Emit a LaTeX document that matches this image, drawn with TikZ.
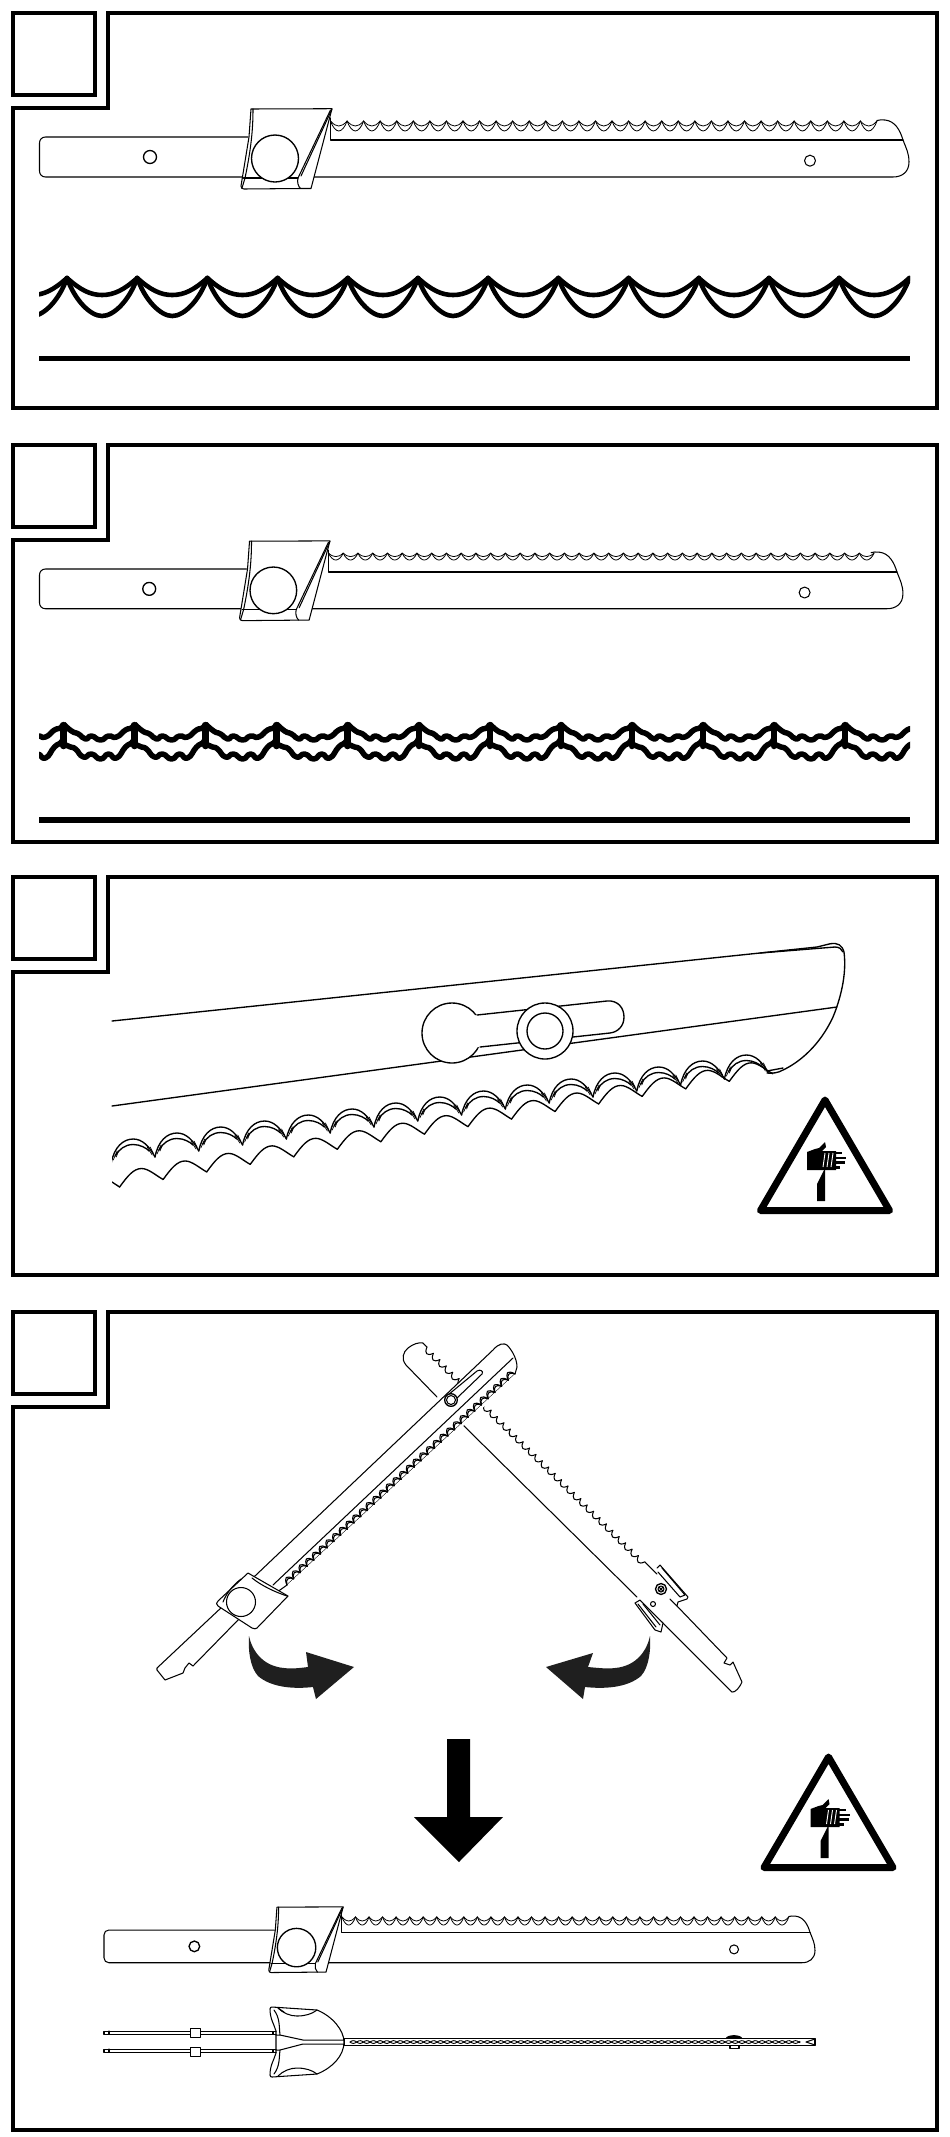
\documentclass[tikz,border=0pt]{standalone}
\usetikzlibrary{calc}
\tikzset{
  frameline/.style={line width=4.4pt,miter limit=10},
  thin1/.style={line width=1.05pt,line join=round,line cap=round},
  thin2/.style={line width=1.35pt,line join=round,line cap=round},
  waveline/.style={line width=4.6pt,line cap=round},
}
% panel frame with notch and empty square
\newcommand\panelframe[2]{%
  \draw[frameline] (108,#1) -- (937,#1) -- (937,#2) -- (13,#2) -- (13,#1+95) -- (108,#1+95) -- cycle;
  \draw[frameline] (13,#1) rectangle (95,#1+82);
}
% scallop chain: x0 y0 spacing n depth f g
\newcommand\chain[7]{%
  \foreach \k in {1,...,#4}{%
    \pgfmathsetmacro\ax{#1+(\k-1)*(#3)}%
    \pgfmathsetmacro\mx{\ax+0.5*(#3)}%
    \pgfmathsetmacro\bx{\ax+(#3)}%
    \pgfmathsetmacro\cax{\ax+(#6)*(#3)}%
    \pgfmathsetmacro\cbx{\bx-(#6)*(#3)}%
    \pgfmathsetmacro\cay{#2+(#7)*(#5)}%
    \pgfmathsetmacro\my{#2+(#5)}%
    \pgfmathsetmacro\dma{\mx-0.17*(#3)}%
    \pgfmathsetmacro\dmb{\mx+0.17*(#3)}%
    \draw (\ax,#2) .. controls (\cax,\cay) and (\dma,\my) .. (\mx,\my)
       .. controls (\dmb,\my) and (\cbx,\cay) .. (\bx,#2);
  }%
}
% straight blade: nx ny scale, tooth spacing, tooth count, d1, d2
\newcommand\flatblade[7]{%
\begin{scope}[shift={(#1,#2)},scale=#3,shift={(-39.5,-137)},thin1]
  \draw (248,137) -- (45.5,137) .. controls (42,137) and (39.5,139.5) .. (39.5,143)
     -- (39.5,171) .. controls (39.5,174.5) and (42,177) .. (45.5,177) -- (893,177)
     .. controls (902,177) and (909,172) .. (909,162) .. controls (909,153) and (906,148) .. (903,140)
     .. controls (900,130) and (895,121) .. (885,120) .. controls (882,120) and (879,119.5) .. (877,120.5);
  \draw (330.5,118) -- (330.5,140) -- (903,140);
  \draw[thin2] (150,157) circle[radius=6.5];
  \draw (810,160.7) circle[radius=5.5];
  \begin{scope}[line width=.8pt]
    \chain{330.5}{121}{#4}{#5}{#6}{0.19}{0.7}
    \chain{330.5}{121}{#4}{#5}{#7}{0.12}{0.6}
  \end{scope}
  \draw[fill=white] (251,109) -- (332,108.7) -- (311,188.5) -- (300,188.5) -- (244,189)
     .. controls (242,189) and (241,188) .. (241,186) -- (249,137) -- cycle;
  \draw (253,109) .. controls (253,125) and (252,145) .. (245,178) -- (242,188);
  \draw (243.5,178) -- (298,178);
  \draw (330.5,110) -- (298,178) .. controls (297,182) and (298,186) .. (300.5,188.5);
  \draw (332,109) -- (301,176);
  \draw[thin2,fill=white] (275,158.5) circle[radius=23.5];
\end{scope}}
% warning sign
\newcommand\warnsign[2]{%
\begin{scope}[shift={(#1,#2)}]
  \draw[line width=7pt,line join=round] (825,1100) -- (889.5,1210.5) -- (760.5,1210.5) -- cycle;
  \fill (807,1152) -- (815,1149) -- (819,1148) -- (825,1142) -- (826,1147) -- (822,1151) -- (836,1151) -- (836,1170) -- (807,1170) -- cycle;
  \draw[white,line width=.9pt] (823,1167) -- (825,1153) (827,1167) -- (829,1153) (831,1167) -- (833,1153);
  \draw[line width=2.5pt] (835,1153) -- (842,1153) (835,1158) -- (846,1158) (835,1162.5) -- (845,1162.5) (835,1167.5) -- (840,1167.5);
  \fill (825,1168) -- (817,1184) -- (817,1201) -- (825,1201) -- cycle;
\end{scope}}
\begin{document}
\begin{tikzpicture}[x=1pt,y=-1pt]
\useasboundingbox (0,0) rectangle (950,2137);
\fill[white] (0,0) rectangle (950,2137);

%% ---------- panel 1
\panelframe{13}{408}
\flatblade{39.5}{137}{1}{16.56}{33}{5}{10}
\begin{scope}
  \clip (39,260) rectangle (910,330);
  \begin{scope}[waveline]
    \chain{-3.2}{278}{70.2}{13}{17}{0.19}{0.7}
    \chain{-3.2}{278}{70.2}{13}{38}{0.11}{0.58}
  \end{scope}
\end{scope}
\draw[line width=5pt] (39,358) -- (910,358);

%% ---------- panel 2
\panelframe{445}{842}
\flatblade{39.5}{569}{0.993}{14.85}{37}{3.5}{7}
\begin{scope}
  \clip (39,710) rectangle (910,770);
  \foreach \k in {-1,...,12}{
    \begin{scope}[shift={(63.5+71.05*\k,722)}]
      \draw[line width=6.5pt,line cap=round] (0,3) -- (0,24);
      \draw[line width=5.5pt,line join=round] plot[smooth,tension=1] coordinates
        {(0,2) (8,9) (15,12) (22,17) (28,14) (37,18) (45,14) (53,15) (62,8) (68,6) (71,2)};
      \draw[line width=5.5pt,line join=round] plot[smooth,tension=1] coordinates
        {(0,22) (7,25) (12,27) (20,35) (28,32) (37,37) (45,32) (53,36) (62,25) (68,21) (71,16)};
    \end{scope}
  }
\end{scope}
\draw[line width=6.5pt] (39,820) -- (910,820);

%% ---------- panel 3
\panelframe{877}{1275}
\begin{scope}[thin2]
  % blade outline
  \draw (760,953) -- (835,947) .. controls (839,947) and (842,949) .. (843,952);
  \draw (112,1021) -- (817,947) -- (830,943.8) .. controls (838,942.5) and (842,945) .. (844,952)
     .. controls (847,975) and (840,1000) .. (833,1017) .. controls (820,1045) and (800,1062) .. (783,1070)
     .. controls (778,1073) and (772,1073.5) .. (767,1073);
  \draw (767,1071) -- (783,1068);
  \draw (112,1106) -- (837,1007);
  % keyhole
  \draw[fill=white] (452,1033) circle[radius=30];
  \fill[white] (465,1017) -- (477,1015) -- (607,1001) .. controls (618,1000) and (624,1008) .. (624,1017)
     .. controls (624,1026) and (618,1032) .. (610,1033) -- (480,1047) -- (465,1049) -- cycle;
  \draw (477,1015) -- (607,1001) .. controls (618,1000) and (624,1008) .. (624,1017)
     .. controls (624,1026) and (618,1032) .. (610,1033) -- (480,1047);
  \draw[fill=white] (545,1031) circle[radius=28];
  \draw (545,1031) circle[radius=18];
  % teeth
  \begin{scope}
    \clip (112,1040) rectangle (800,1200);
    \foreach \k in {0,...,14}{
      \begin{scope}[shift={(111.2+43.8*\k,1163-6*\k)}]
        \draw (0,0) .. controls (3,-16) and (12,-24) .. (22,-24) .. controls (31,-24) and (38,-17) .. (43.8,-6);
        \draw (4,-7) .. controls (8,-14) and (14,-18.5) .. (22,-18.5) .. controls (29,-18.5) and (35,-15) .. (38,-12);
        \draw[line width=.7pt] (36,-16) -- (41,-8) (39,-16) -- (42,-10) (2,-3) -- (6,-12) (5,-6) -- (7,-11);
      \end{scope}
    }
    \foreach \k in {0,...,14}{
      \begin{scope}[shift={(119.6+43.55*\k,1187-7.55*\k)}]
        \draw (0,0) .. controls (8,-11) and (14,-18.5) .. (22,-18.5) .. controls (29,-18.5) and (37,-11) .. (43.55,-7.55);
      \end{scope}
    }
    \draw (112,1182) -- (119.6,1187);
  \end{scope}
\end{scope}
\warnsign{0}{0}

%% ---------- panel 4
\panelframe{1312}{2130}
% blade B (under)
\begin{scope}[thin1]
  \draw (437,1397) -- (406,1365) .. controls (401,1359) and (403,1352) .. (408,1348)
     .. controls (413,1344) and (419,1342) .. (423,1343) -- (427,1347);
  \begin{scope}[shift={(427,1347)},rotate=-44.6]
    \chain{0}{0}{9}{34}{5}{0.15}{0.7}
  \end{scope}
  \draw (645,1562) -- (657,1574);
  \draw (460,1422) -- (637,1597);
  \draw (662,1622) -- (732,1692) .. controls (735,1693) and (740,1687) .. (742,1682) -- (733,1662)
     -- (730,1665) -- (724,1663) -- (727,1658) -- (677,1606);
  \draw[fill=white] (657,1568) -- (660,1565) -- (688,1597) -- (687,1599) -- (678,1602) -- (677,1606) -- (670,1599);
  \draw (662,1568) -- (685,1595) -- (680,1597) -- (658,1572);
  \draw[fill=white] (635,1603) -- (640,1600) -- (663,1623) -- (661,1632) -- (655,1630) -- cycle;
  \draw (638,1604) -- (656,1627) (643,1604) -- (660,1625);
  \draw[thin2] (661,1589) circle[radius=5.5];
  \draw (661,1589) circle[radius=3];
  \draw (659,1587) -- (663,1591) (659,1591) -- (663,1587);
  \draw (653,1604) circle[radius=2.5];
\end{scope}
% blade A (over)
\begin{scope}[thin1]
  \draw[fill=white] (157,1670) -- (165,1680) -- (183,1673) -- (185,1668) -- (189,1663) -- (193,1666) -- (238,1620)
     -- (287,1585) -- (515,1374) -- (517,1367) .. controls (517,1358) and (511,1349) .. (507,1345)
     .. controls (504,1343) and (499,1343) .. (493,1350) -- (256,1575) -- (157,1668) -- cycle;
  \fill[white] (287,1585) -- (515,1374) -- (517,1376) -- (289,1587) -- cycle;
  \draw (273,1585) -- (513,1358);
  % slot and pin
  \draw[fill=white] (448,1395) -- (477,1371) .. controls (480,1369) and (484,1371) .. (482,1374) -- (457,1398);
  \draw[thin2,fill=white] (451,1400) circle[radius=6.3];
  \draw (451,1400) circle[radius=4.5];
  \begin{scope}[shift={(287,1585)},rotate=42.8,line width=1.1pt]
    \chain{0}{0}{9.14}{34}{-4}{0.15}{0.7}
    \chain{0}{0}{9.14}{34}{-6}{0.12}{0.6}
  \end{scope}
  \draw[fill=white] (248,1573) -- (288,1596) -- (257,1628) .. controls (256,1629) and (254,1629) .. (252,1628)
     -- (218,1606) .. controls (216,1604) and (216,1603) .. (218,1601) -- cycle;
  \draw (252,1578) .. controls (262,1586) and (275,1592) .. (287,1596);
  \draw (241,1579) .. controls (232,1586) and (226,1594) .. (223,1602);
  \draw (241,1602) circle[radius=14.5];
\end{scope}
% curved arrows
\fill[black!88] (249,1636) .. controls (252,1650) and (262,1666) .. (284,1668) .. controls (292,1669) and (300,1668) .. (308,1667)
   -- (306,1652) -- (354,1667) -- (316,1699) -- (313,1687) .. controls (295,1689) and (272,1688) .. (258,1676)
   .. controls (250,1667) and (248,1650) .. (249,1636) -- cycle;
\fill[black!88] (650,1636) .. controls (647,1650) and (637,1666) .. (615,1668) .. controls (607,1669) and (599,1668) .. (588,1667)
   -- (593,1653) -- (546,1667) -- (583,1699) -- (585,1687) .. controls (604,1689) and (627,1688) .. (641,1676)
   .. controls (649,1667) and (651,1650) .. (650,1636) -- cycle;
% down arrow
\fill (447,1739) -- (470,1739) -- (470,1817) -- (503,1817) -- (459,1862) -- (414,1817) -- (447,1817) -- cycle;
\warnsign{3.5}{657}
% bottom blade
\flatblade{104}{1930}{0.8177}{16.56}{33}{5}{10}
% side view
\begin{scope}[thin1]
  \draw[fill=white] (104,2031) rectangle (273,2034);
  \draw[fill=white] (104,2049) rectangle (273,2052);
  \draw (109,2031) -- (109,2034) (109,2049) -- (109,2052);
  \draw[fill=white,line width=.8pt] (190,2028) rectangle (200,2037);
  \draw[fill=white,line width=.8pt] (190,2047) rectangle (200,2056);
  \draw[fill=white] (344,2038.5) rectangle (815,2045.5);
  \draw[domain=0:450,samples=300,line width=.9pt] plot ({350+\x},{2042+1.4*sin(\x*26.866)});
  \draw[domain=0:450,samples=300,line width=.9pt] plot ({350+\x},{2042-1.4*sin(\x*26.866)});
  \draw (815,2039) -- (806,2042) -- (815,2045);
  \fill (725.5,2038.5) .. controls (727,2034) and (741,2034) .. (742.5,2038.5) -- cycle;
  \draw (730,2045.5) rectangle (739,2048);
  \draw[fill=white] (270,2009) .. controls (270,2007.5) and (271,2007) .. (272,2007) -- (317,2010)
     .. controls (332,2016) and (344,2030) .. (344,2042) .. controls (344,2056) and (332,2068) .. (317,2074)
     -- (272,2077) .. controls (271,2077) and (270,2076.5) .. (270,2075)
     .. controls (270,2065) and (274,2060) .. (276,2053) -- (276,2031) .. controls (274,2024) and (270,2019) .. (270,2009) -- cycle;
  \draw (278,2008) .. controls (283,2013) and (290,2016) .. (297,2016) .. controls (305,2016) and (312,2014) .. (317,2010);
  \draw (278,2076) .. controls (283,2071) and (290,2068) .. (297,2068) .. controls (305,2068) and (312,2070) .. (317,2074);
  \draw (274,2010) .. controls (280,2018) and (279,2026) .. (280,2035);
  \draw (274,2074) .. controls (280,2066) and (279,2058) .. (280,2050);
  \draw (278,2008) -- (284,2012);
  \draw (276,2035) -- (280,2035) -- (303,2040) -- (344,2040);
  \draw (276,2050) -- (280,2050) -- (303,2044) -- (344,2044);
  \draw (273,2031) -- (276,2031) (273,2034) -- (276,2034) (273,2049) -- (276,2049) (273,2052) -- (276,2052);
\end{scope}
\end{tikzpicture}
\end{document}
